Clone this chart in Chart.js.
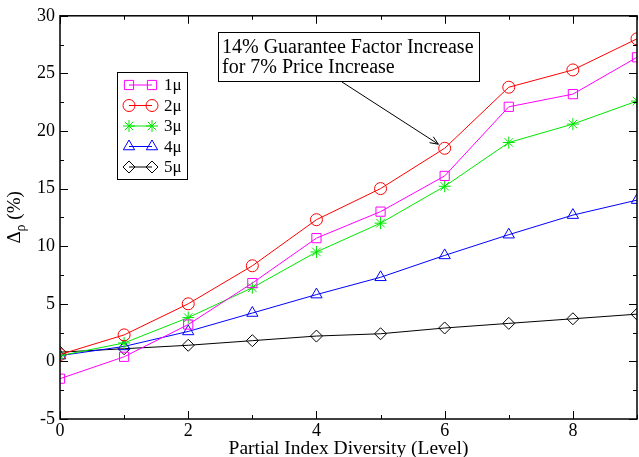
<!DOCTYPE html>
<html>
<head>
<meta charset="utf-8">
<script src="https://cdn.jsdelivr.net/npm/chart.js@4.4.0/dist/chart.umd.min.js"></script>
<style>
  html, body { margin: 0; padding: 0; background: #fff; }
</style>
</head>
<body>
<canvas id="chart" width="639" height="457"></canvas>
<script>
const levels = [0, 1, 2, 3, 4, 5, 6, 7, 8, 9];
const mu1 = [-1.5, 0.4, 3.2, 6.8, 10.7, 13.0, 16.1, 22.1, 23.2, 26.4];
const mu2 = [0.6, 2.3, 5.0, 8.3, 12.3, 15.0, 18.5, 23.8, 25.3, 28.0];
const mu3 = [0.5, 1.6, 3.8, 6.4, 9.5, 12.0, 15.2, 19.0, 20.6, 22.6];
const mu4 = [0.5, 1.3, 2.6, 4.2, 5.8, 7.3, 9.2, 11.0, 12.7, 14.0];
const mu5 = [0.8, 1.1, 1.4, 1.8, 2.2, 2.4, 2.9, 3.3, 3.7, 4.1];
const seriesNames = ["1μ", "2μ", "3μ", "4μ", "5μ"];
const annotationLines = ["14% Guarantee Factor Increase", "for 7% Price Increase"];

const SERIF = "'Liberation Serif', 'DejaVu Serif', serif";

function makeSet(label, values, color, style, radius) {
  return {
    label: label,
    data: levels.map((x, i) => ({ x: x, y: values[i] })),
    borderColor: color,
    borderWidth: 1,
    pointStyle: style,
    pointRadius: radius,
    pointBorderColor: color,
    pointBackgroundColor: "rgba(0,0,0,0)",
    pointBorderWidth: 1,
    tension: 0
  };
}

const datasets = [
  makeSet(seriesNames[0], mu1, "#ff00ff", "rect", 6.5),
  makeSet(seriesNames[1], mu2, "#ff0000", "circle", 6),
  makeSet(seriesNames[2], mu3, "#00e600", "star", 6),
  makeSet(seriesNames[3], mu4, "#0000ff", "triangle", 6.5),
  makeSet(seriesNames[4], mu5, "#000000", "rectRot", 6)
];

// frame, inward ticks, legend, annotation, y title
const decorations = {
  id: "decorations",
  afterDraw(chart) {
    const ctx = chart.ctx;
    const a = chart.chartArea;
    const xs = chart.scales.x;
    const ys = chart.scales.y;
    ctx.save();
    ctx.strokeStyle = "#000";
    ctx.lineWidth = 1.5;
    ctx.strokeRect(a.left, a.top, a.right - a.left, a.bottom - a.top);

    ctx.lineWidth = 1;
    ctx.beginPath();
    for (let v = 0; v <= 9; v++) {
      const len = v % 2 === 0 ? 8 : 4;
      const px = Math.round(xs.getPixelForValue(v)) + 0.5;
      ctx.moveTo(px, a.bottom); ctx.lineTo(px, a.bottom - len);
      ctx.moveTo(px, a.top); ctx.lineTo(px, a.top + len);
    }
    for (let v = -5; v <= 30; v += 2.5) {
      const len = v % 5 === 0 ? 8 : 4;
      const py = Math.round(ys.getPixelForValue(v)) + 0.5;
      ctx.moveTo(a.left, py); ctx.lineTo(a.left + len, py);
      ctx.moveTo(a.right, py); ctx.lineTo(a.right - len, py);
    }
    ctx.stroke();

    // legend
    ctx.lineWidth = 1;
    ctx.strokeStyle = "#000";
    ctx.strokeRect(117.5, 72.5, 70, 107);
    ctx.font = "17px " + SERIF;
    ctx.textBaseline = "middle";
    ctx.textAlign = "left";
    chart.data.datasets.forEach((ds, i) => {
      const y = 85 + i * 20.5;
      ctx.strokeStyle = ds.borderColor;
      ctx.beginPath();
      ctx.moveTo(129, y); ctx.lineTo(152, y);
      ctx.stroke();
      const opts = { pointStyle: ds.pointStyle, radius: ds.pointRadius, rotation: 0, borderWidth: 1 };
      ctx.fillStyle = "rgba(0,0,0,0)";
      ctx.strokeStyle = ds.borderColor;
      Chart.helpers.drawPoint(ctx, opts, 129, y);
      Chart.helpers.drawPoint(ctx, opts, 152, y);
      ctx.fillStyle = "#000";
      ctx.fillText(ds.label, 164, y + 1);
    });

    // annotation box and arrow
    ctx.strokeStyle = "#000";
    ctx.fillStyle = "#fff";
    ctx.fillRect(218.5, 32.5, 261, 49);
    ctx.strokeRect(218.5, 32.5, 261, 49);
    ctx.fillStyle = "#000";
    ctx.font = "20px " + SERIF;
    ctx.textBaseline = "alphabetic";
    ctx.fillText(annotationLines[0], 222, 53);
    ctx.fillText(annotationLines[1], 222, 73);

    const tx = xs.getPixelForValue(6);
    const ty = ys.getPixelForValue(mu2[6]);
    const sx = 342, sy = 82;
    const ang = Math.atan2(ty - sy, tx - sx);
    const ex = tx - Math.cos(ang) * 7.5;
    const ey = ty - Math.sin(ang) * 7.5;
    ctx.beginPath();
    ctx.moveTo(sx, sy); ctx.lineTo(ex, ey);
    ctx.moveTo(ex - 9 * Math.cos(ang - 0.4), ey - 9 * Math.sin(ang - 0.4));
    ctx.lineTo(ex, ey);
    ctx.lineTo(ex - 9 * Math.cos(ang + 0.4), ey - 9 * Math.sin(ang + 0.4));
    ctx.stroke();

    // y axis title with subscript
    ctx.translate(14, (a.top + a.bottom) / 2);
    ctx.rotate(-Math.PI / 2);
    ctx.textAlign = "left";
    ctx.textBaseline = "alphabetic";
    ctx.font = "19px " + SERIF;
    const w1 = ctx.measureText("Δ").width;
    ctx.font = "14px " + SERIF;
    const w2 = ctx.measureText("ρ").width;
    ctx.font = "19px " + SERIF;
    const w3 = ctx.measureText(" (%)").width;
    let x0 = -(w1 + w2 + w3) / 2;
    ctx.fillText("Δ", x0, 6);
    ctx.font = "14px " + SERIF;
    ctx.fillText("ρ", x0 + w1, 11);
    ctx.font = "19px " + SERIF;
    ctx.fillText(" (%)", x0 + w1 + w2, 6);
    ctx.restore();
  }
};

new Chart(document.getElementById("chart").getContext("2d"), {
  type: "line",
  data: { datasets: datasets },
  options: {
    responsive: false,
    animation: false,
    layout: { autoPadding: false, padding: { top: 15, right: 2, left: 0, bottom: 0 } },
    plugins: { legend: { display: false }, tooltip: { enabled: false } },
    scales: {
      x: {
        type: "linear",
        min: 0,
        max: 9,
        grid: { display: false, drawTicks: false },
        border: { display: false },
        ticks: { stepSize: 2, includeBounds: false, color: "#000", font: { family: SERIF, size: 18 }, padding: 1 },
        title: { display: true, text: "Partial Index Diversity (Level)", color: "#000", font: { family: SERIF, size: 19.5 }, padding: { top: 0, bottom: -4 } },
        afterFit(scale) { scale.height = 38; }
      },
      y: {
        type: "linear",
        min: -5,
        max: 30,
        grid: { display: false, drawTicks: false },
        border: { display: false },
        ticks: { stepSize: 5, color: "#000", font: { family: SERIF, size: 18 }, padding: 5 },
        afterFit(scale) { scale.width = 60; }
      }
    }
  },
  plugins: [decorations]
});
</script>
</body>
</html>
